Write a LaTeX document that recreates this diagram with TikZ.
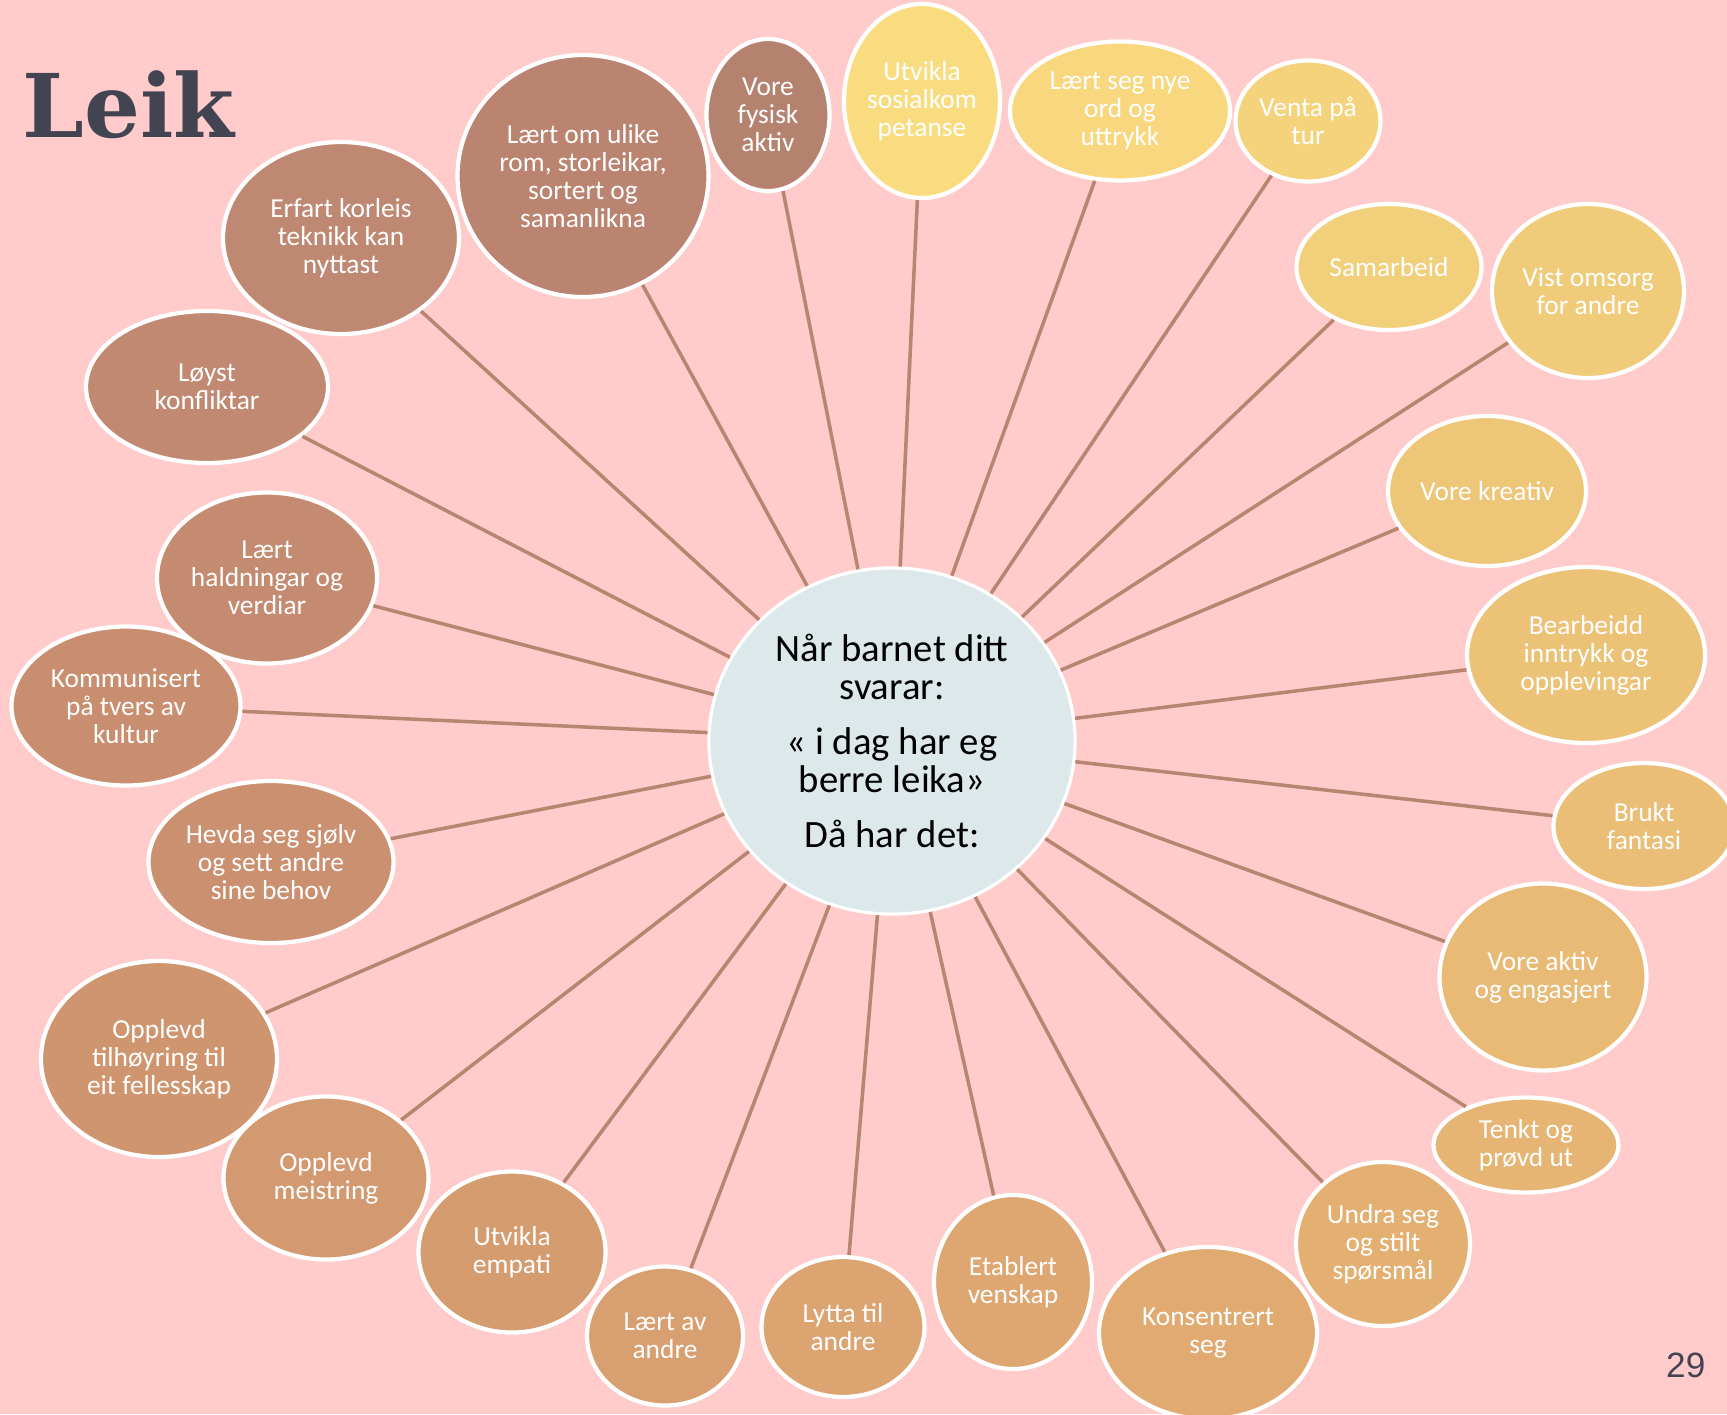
\documentclass[tikz,border=0pt]{standalone}
\usepackage{fontspec}
\setmainfont{Carlito}
\newfontfamily\titlefont{DejaVu Serif}
\newfontfamily\numfont{Liberation Sans}
\usetikzlibrary{shapes.geometric}

\definecolor{bakgrunn}{HTML}{FFCBCB}
\definecolor{eikefarge}{HTML}{B98470}
\definecolor{midtfarge}{HTML}{DDE8EB}
\definecolor{tittelfarge}{HTML}{434451}

\tikzset{
	boble/.style={draw=white, line width=1.2pt, ellipse, inner sep=0pt, text=white, align=center, font=\fontsize{7.8}{8}\selectfont},
	eikestrek/.style={draw=eikefarge, line width=1pt}
}

\begin{document}
\begin{tikzpicture}[x=0.01cm, y=-0.01cm]
	\useasboundingbox (0,0) rectangle (1727,1414);
	\fill[bakgrunn] (0,0) rectangle (1727,1414);
	\node[anchor=base west, inner sep=0pt, text=tittelfarge, font=\titlefont\bfseries\fontsize{25}{25}\selectfont] (tittel) at (22,137) {Leik};
	\node[anchor=base east, inner sep=0pt, text=tittelfarge, font=\numfont\fontsize{10}{10}\selectfont] (sidetal) at (1706,1377) {29};
	% midten
	\node[ellipse, draw=white, line width=0.9pt, fill=midtfarge, minimum width=3.66cm, minimum height=3.46cm, inner sep=0pt, align=center, font=\fontsize{11}{10.8}\selectfont] (midt) at (892,741) {Når barnet ditt\\svarar:\\[4.8pt]« i dag har eg\\berre leika»\\[4.8pt]Då har det:};
	% boblene rundt midten
	\foreach \namn/\x/\y/\b/\h/\farge/\tekst in {
		erfart/341/238/236/192/BF8872/{Erfart korleis\\teknikk kan\\nyttast},
		laertom/583/176/251/242/BA8470/{Lært om ulike\\rom, storleikar,\\sortert og\\samanlikna},
		fysisk/768/115/123/152/B5826F/{Vore\\fysisk\\aktiv},
		sosial/922/101/156/194/FADC80/{Utvikla\\sosialkom\\petanse},
		nyeord/1120/111/220/139/F8D77E/{Lært seg nye\\ord og\\uttrykk},
		venta/1308/121/145/121/F5D37C/{Venta på\\tur},
		samarbeid/1389/267/185/126/F2CF7B/{Samarbeid},
		omsorg/1588/291/192/174/F0CB7A/{Vist omsorg\\for andre},
		kreativ/1487/491/198/150/EEC678/{Vore kreativ},
		bearbeidd/1586/655/238/176/ECC277/{Bearbeidd\\inntrykk og\\opplevingar},
		fantasi/1644/826/181/126/EABE76/{Brukt\\fantasi},
		aktiv/1543/977/207/187/E8BA75/{Vore aktiv\\og engasjert},
		tenkt/1526/1145/185/95/E6B574/{Tenkt og\\prøvd ut},
		undra/1383/1244/174/164/E4B072/{Undra seg\\og stilt\\spørsmål},
		konsentrert/1208/1333/218/172/E1AA71/{Konsentrert\\seg},
		venskap/1013/1282/158/174/DEA771/{Etablert\\venskap},
		lytta/843/1327/163/140/DBA471/{Lytta til\\andre},
		laertav/665/1336/156/139/D89F70/{Lært av\\andre},
		empati/512/1252/187/161/D59C70/{Utvikla\\empati},
		meistring/326/1178/205/163/D39970/{Opplevd\\meistring},
		fellesskap/159/1059/236/196/CF956F/{Opplevd\\tilhøyring til\\eit fellesskap},
		hevda/271/862/245/162/CB906F/{Hevda seg sjølv\\og sett andre\\sine behov},
		kultur/126/706/229/159/C98E6F/{Kommunisert\\på tvers av\\kultur},
		haldningar/267/578/220/171/C58B70/{Lært\\haldningar og\\verdiar},
		konflikt/207/387/242/152/C18971/{Løyst\\konfliktar}%
	}{
		\definecolor{fyll}{HTML}{\farge}
		\node[boble, fill=fyll, minimum width=\b*0.01cm, minimum height=\h*0.01cm] (\namn) at (\x,\y) {\tekst};
		\draw[eikestrek] (midt) -- (\namn);
	}
\end{tikzpicture}
\end{document}
